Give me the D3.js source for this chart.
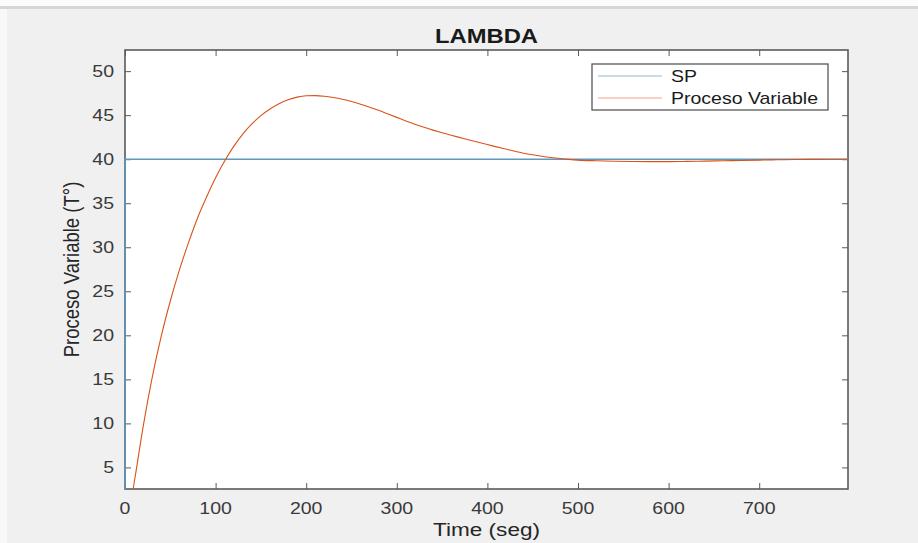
<!DOCTYPE html>
<html>
<head>
<meta charset="utf-8">
<script src="https://cdn.jsdelivr.net/npm/d3@7"></script>
<style>
  html, body { margin: 0; padding: 0; background: #f0f0f0; }
  svg { display: block; }
  text { font-family: "Liberation Sans", Arial, Helvetica, sans-serif; }
</style>
</head>
<body>
<script>
// ---------- data ----------
const title = "LAMBDA";
const xLabel = "Time (seg)";
const yLabel = "Proceso Variable (T°)";
const seriesNames = ["SP", "Proceso Variable"];

const xTicks = [0, 100, 200, 300, 400, 500, 600, 700];
const yTicks = [5, 10, 15, 20, 25, 30, 35, 40, 45, 50];

const spTime = [0, 0, 798];
const spValue = [0, 40, 40];

const pvTime = [0, 5, 10, 20, 30, 40, 50, 60, 70, 80, 90, 100, 110, 120, 130, 140, 150,
  160, 170, 180, 190, 200, 210, 220, 230, 240, 250, 260, 270, 280, 290, 300,
  310, 320, 330, 340, 350, 360, 370, 380, 390, 400, 410, 420, 430, 440, 450,
  460, 470, 480, 490, 500, 520, 540, 560, 580, 600, 620, 640, 660, 680, 700,
  720, 740, 760, 780, 798];
const pvValue = [0, 0.3, 3.2, 9.6, 15.2, 19.9, 23.9, 27.4, 30.5, 33.3, 35.7, 37.9, 39.8, 41.45, 42.85, 44.0, 44.95,
  45.7, 46.3, 46.75, 47.05, 47.2, 47.22, 47.15, 47.0, 46.8, 46.55, 46.25, 45.9, 45.55, 45.15, 44.75,
  44.35, 43.97, 43.62, 43.3, 43.0, 42.72, 42.45, 42.18, 41.92, 41.66, 41.4, 41.15, 40.9, 40.68, 40.5,
  40.34, 40.2, 40.08, 39.98, 39.9, 39.82, 39.77, 39.74, 39.73, 39.73, 39.75, 39.78, 39.82, 39.86, 39.9,
  39.93, 39.96, 39.98, 39.99, 40.0];

// ---------- layout ----------
const W = 918, H = 543;
const L = 125, R = 848, T = 50, B = 489;
const SX = 1.22; // horizontal stretch of the reference picture's text

const svg = d3.select("body").append("svg").attr("width", W).attr("height", H);

// background
svg.append("rect").attr("x", 0).attr("y", 0).attr("width", W).attr("height", H).attr("fill", "#f0f0f0");
svg.append("rect").attr("x", 0).attr("y", 0).attr("width", W).attr("height", 6).attr("fill", "#fbfbfb");
svg.append("rect").attr("x", 0).attr("y", 6).attr("width", W).attr("height", 3).attr("fill", "#d6d6d6");
svg.append("rect").attr("x", 0).attr("y", 9).attr("width", 7).attr("height", H - 9).attr("fill", "#f8f8f8");

const x = d3.scaleLinear().domain([0, 798]).range([L, R]);
const y = d3.scaleLinear().domain([2.55, 52.4]).range([B, T]);

// plot area
svg.append("rect").attr("x", L).attr("y", T).attr("width", R - L).attr("height", B - T).attr("fill", "#ffffff");

function stext(sel, px, py, str, opts) {
  const t = sel.append("text")
    .attr("transform", `translate(${px},${py}) scale(${SX},1)` + (opts.rotate ? ` rotate(${opts.rotate})` : ""))
    .attr("text-anchor", opts.anchor || "middle")
    .attr("font-size", opts.size)
    .attr("fill", opts.fill || "#262626")
    .text(str);
  if (opts.bold) t.attr("font-weight", "bold");
  return t;
}

// axes via d3 axis generators (inward ticks)
const tickLen = 6;
const axisColor = "#5a5a5a";

function styleAxis(g) {
  g.select(".domain").remove();
  g.selectAll(".tick line").attr("stroke", axisColor).attr("stroke-width", 1);
  g.selectAll(".tick text").remove();
}

svg.append("g").attr("transform", `translate(0,${B})`)
  .call(d3.axisTop(x).tickValues(xTicks).tickSize(tickLen)).call(styleAxis);
svg.append("g").attr("transform", `translate(0,${T})`)
  .call(d3.axisBottom(x).tickValues(xTicks).tickSize(tickLen)).call(styleAxis);
svg.append("g").attr("transform", `translate(${L},0)`)
  .call(d3.axisRight(y).tickValues(yTicks).tickSize(tickLen)).call(styleAxis);
svg.append("g").attr("transform", `translate(${R},0)`)
  .call(d3.axisLeft(y).tickValues(yTicks).tickSize(tickLen)).call(styleAxis);

// box
svg.append("rect").attr("x", L).attr("y", T).attr("width", R - L).attr("height", B - T)
  .attr("fill", "none").attr("stroke", axisColor).attr("stroke-width", 1.6);

// tick labels
const tickG = svg.append("g");
xTicks.forEach(v => stext(tickG, x(v), 514, String(v), { size: 16, fill: "#3a3a3a" }));
yTicks.forEach(v => stext(tickG, 114, y(v) + 6, String(v), { size: 16, fill: "#3a3a3a", anchor: "end" }));

// clip
svg.append("clipPath").attr("id", "clip").append("rect")
  .attr("x", L - 2).attr("y", T).attr("width", R - L + 2).attr("height", B - T);

const line = d3.line().x(d => x(d[0])).y(d => y(d[1]));
const spData = spTime.map((t, i) => [t, spValue[i]]);
const pvData = pvTime.map((t, i) => [t, pvValue[i]]);

const plot = svg.append("g").attr("clip-path", "url(#clip)");
plot.append("path").datum(spData).attr("d", line)
  .attr("fill", "none").attr("stroke", "#5f98c0").attr("stroke-width", 1.5);
plot.append("path").datum(pvData).attr("d", d3.line().curve(d3.curveMonotoneX).x(d => x(d[0])).y(d => y(d[1])))
  .attr("fill", "none").attr("stroke", "#d95319").attr("stroke-width", 1.1);

// title and labels
stext(svg, (L + R) / 2, 43, title, { size: 19.5, bold: true, fill: "#1a1a1a" });
stext(svg, (L + R) / 2, 536, xLabel, { size: 18.5, fill: "#262626" });
stext(svg, 79, (T + B) / 2, yLabel, { size: 18.5, fill: "#262626", rotate: -90 });

// legend
const lg = svg.append("g");
lg.append("rect").attr("x", 592).attr("y", 64).attr("width", 236).attr("height", 46)
  .attr("fill", "#ffffff").attr("stroke", "#4a4a4a").attr("stroke-width", 1.2);
const legColors = ["#8fb8d4", "#f0a58a"];
seriesNames.forEach((name, i) => {
  const ly = 76 + i * 22;
  lg.append("line").attr("x1", 598).attr("x2", 662).attr("y1", ly).attr("y2", ly)
    .attr("stroke", legColors[i]).attr("stroke-width", 1);
  stext(lg, 671, ly + 6, name, { size: 16, fill: "#1a1a1a", anchor: "start" });
});
</script>
</body>
</html>
